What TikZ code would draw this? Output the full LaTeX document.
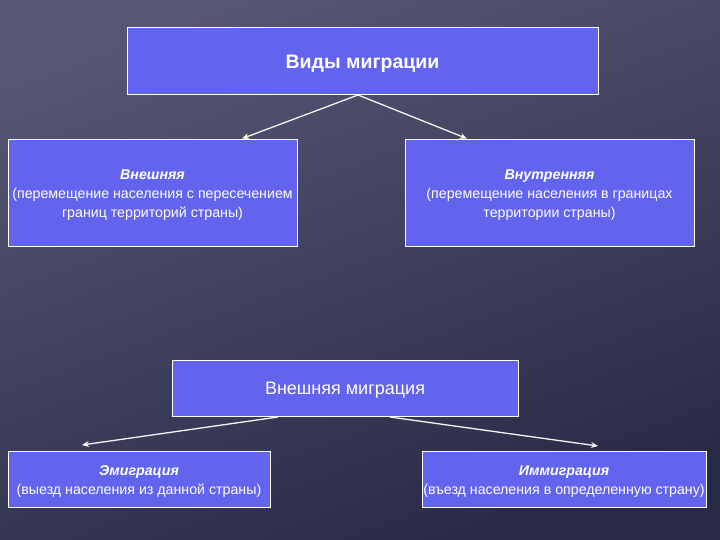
\documentclass[tikz,border=0pt]{standalone}
\usepackage{fontspec}
\setmainfont{Liberation Sans}
\usetikzlibrary{arrows.meta}
\definecolor{bgtop}{RGB}{84,86,116}
\definecolor{bgbot}{RGB}{40,42,70}
\definecolor{boxfill}{RGB}{98,100,238}
\tikzset{
  box/.style={draw=white, line width=0.8pt, fill=boxfill, inner sep=0pt},
  txt/.style={text=white, align=center, inner sep=0pt},
  arr/.style={draw=white!92!gray, line width=1.3pt, -{Stealth[length=7pt,width=6pt]}},
  small/.style={font=\fontsize{14.2}{19}\selectfont}
}
\begin{document}
\begin{tikzpicture}[x=1pt,y=-1pt]
\shade[top color=bgtop, bottom color=bgbot, shading angle=20] (0,0) rectangle (720,540);
\useasboundingbox (0,0) rectangle (720,540);
\node[box, minimum width=471, minimum height=67] (top) at (362.5,60.5) {};
\node[txt, font=\bfseries\fontsize{19.5}{22}\selectfont] (topT) at ([yshift=-3pt]top.center) {Виды миграции};
\node[box, minimum width=289, minimum height=107] (ext) at (152.5,192.5) {};
\node[txt, small] (extT) at ([yshift=-3pt]ext.center) {\textbf{\textit{Внешняя}}\\(перемещение населения с пересечением\\границ территорий страны)};
\node[box, minimum width=289, minimum height=107] (int) at (549.5,192.5) {};
\node[txt, small] (intT) at ([yshift=-3pt]int.center) {\textbf{\textit{Внутренняя}}\\(перемещение населения в границах\\территории страны)};
\node[box, minimum width=346, minimum height=56] (mid) at (345,388) {};
\node[txt, font=\fontsize{18}{21}\selectfont] (midT) at ([yshift=-2pt]mid.center) {Внешняя миграция};
\node[box, minimum width=262, minimum height=56] (emi) at (139,479) {};
\node[txt, small] (emiT) at ([yshift=-3pt]emi.center) {\textbf{\textit{Эмиграция}}\\(выезд населения из данной страны)};
\node[box, minimum width=284, minimum height=56] (imm) at (564,479) {};
\node[txt, small] (immT) at ([yshift=-3pt]imm.center) {\textbf{\textit{Иммиграция}}\\(въезд населения в определенную страну)};
\coordinate (t0) at (358,95);
\coordinate (m1) at (278,417);
\coordinate (m2) at (390,417);
\draw[arr] (t0) -- (ext.north -| 242,0);
\draw[arr] (t0) -- (int.north -| 467,0);
\draw[arr] (m1) -- (82,445);
\draw[arr] (m2) -- (598,446);
\end{tikzpicture}
\end{document}
